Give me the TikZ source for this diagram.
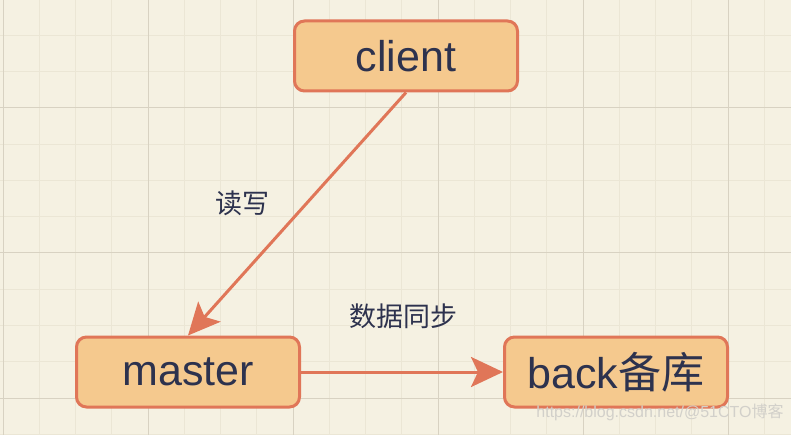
\documentclass[tikz,border=0pt]{standalone}
\usepackage{xcolor}
\usepackage{fontspec}
\setmainfont{Liberation Sans}
\newfontfamily\cjk{Noto Sans CJK SC}
\usetikzlibrary{arrows.meta, positioning}

\definecolor{bgcream}{RGB}{245,241,226}
\definecolor{gridmajor}{RGB}{216,210,194}
\definecolor{gridminor}{RGB}{235,230,213}
\definecolor{boxfill}{RGB}{245,201,142}
\definecolor{boxline}{RGB}{224,118,88}
\definecolor{inkblue}{RGB}{45,50,78}
\definecolor{markgray}{RGB}{210,208,202}

\begin{document}
\begin{tikzpicture}[x=1pt, y=-1pt,
    box/.style={draw=boxline, fill=boxfill, line width=3pt, rounded corners=10pt,
        minimum width=223pt, minimum height=70pt, inner sep=0pt,
        text=inkblue, font=\fontsize{43}{50}\selectfont},
    lbl/.style={text=inkblue, font=\cjk\fontsize{27}{32}\selectfont},
    link/.style={draw=boxline, line width=3pt,
        -{Stealth[length=32pt, width=30pt, inset=7pt]}}]
    % background and grid
    \fill[bgcream] (0,0) rectangle (791,435);
    \useasboundingbox (0,0) rectangle (791,435);
    \foreach \i in {0,...,21}
        \draw[gridminor, line width=1pt] (3+36.25*\i,0) -- (3+36.25*\i,435);
    \foreach \i in {0,...,12}
        \draw[gridminor, line width=1pt] (0,-0.75+36.25*\i) -- (791,-0.75+36.25*\i);
    \foreach \i in {0,...,5}
        \draw[gridmajor, line width=1pt] (3+145*\i,0) -- (3+145*\i,435);
    \foreach \i in {0,...,2}
        \draw[gridmajor, line width=1pt] (0,108+145*\i) -- (791,108+145*\i);

    % boxes
    \node[box] (client) at (406,56) {client};
    \node[box] (master) at (188,372) {master};
    \node[box] (back) at (616,372) {back{\cjk 备库}};

    % links
    \draw[link] (client.south) -- (master.north);
    \draw[link] (master.east) -- (back.west);
    \node[lbl] (rw) at (242,203) {读写};
    \node[lbl] (sync) at (403,316) {数据同步};

    \node[text=markgray, font=\fontsize{16}{18}\selectfont] (mark) at (660,412)
        {https://blog.csdn.net/@51CTO{\cjk 博客}};
\end{tikzpicture}
\end{document}
